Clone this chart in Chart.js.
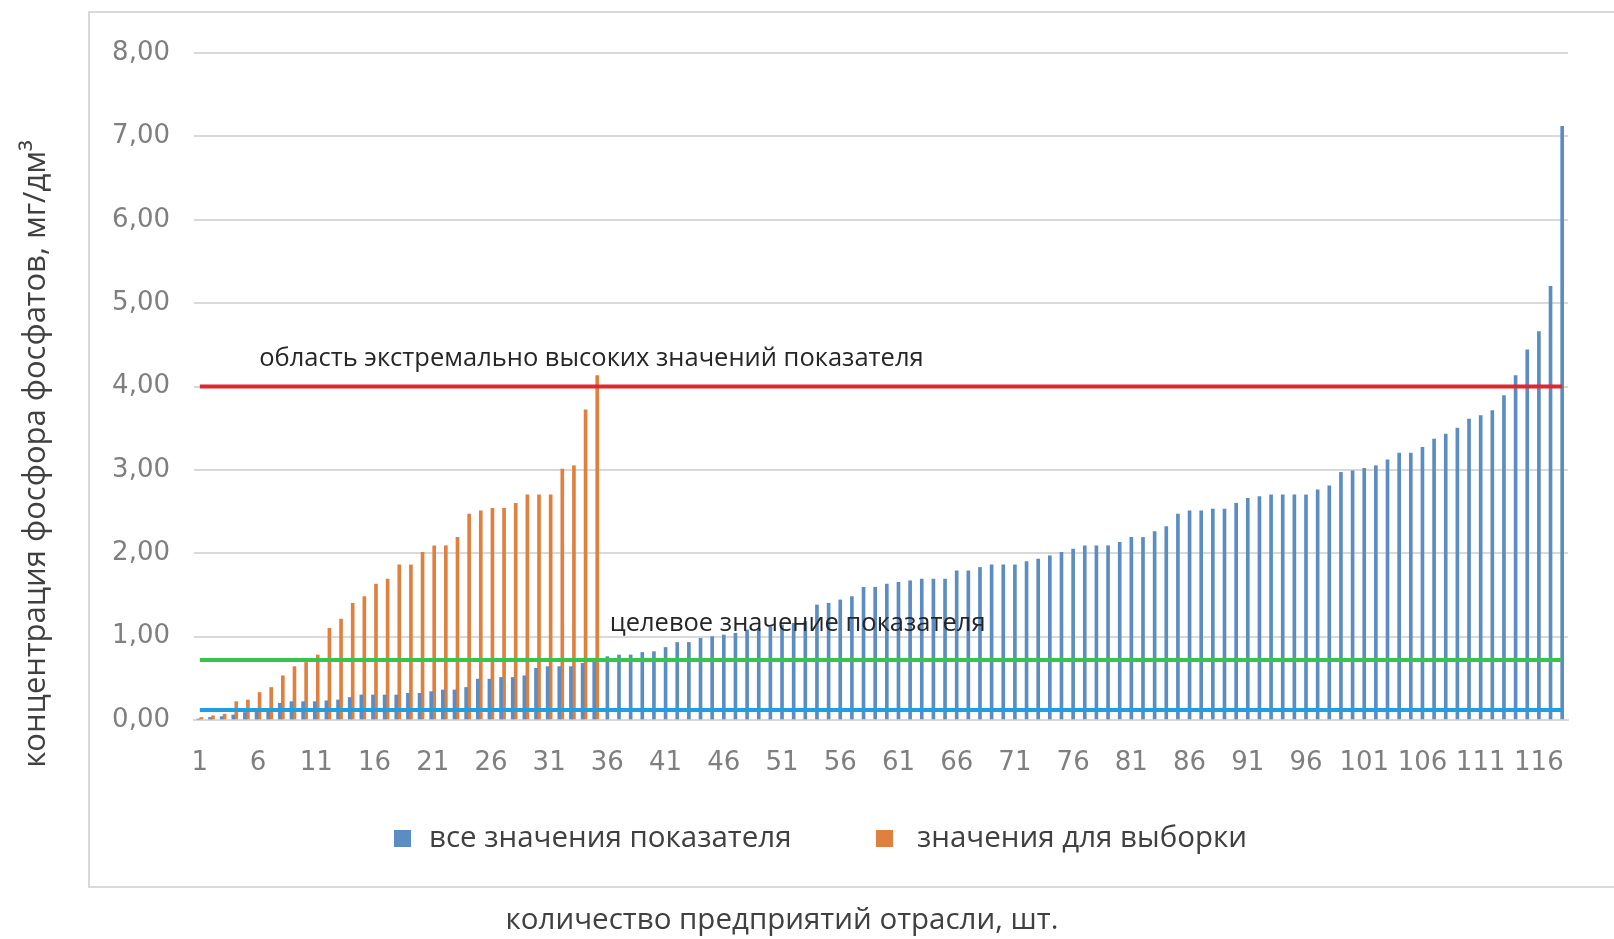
<!DOCTYPE html>
<html lang="ru">
<head>
<meta charset="utf-8">
<title>Концентрация фосфора фосфатов</title>
<script src="https://cdn.jsdelivr.net/npm/chart.js@4.4.1/dist/chart.umd.min.js"></script>
<style>
  html, body { margin: 0; padding: 0; background: #fff; }
  body { width: 1614px; height: 939px; position: relative; overflow: hidden; }
  .frame { position: absolute; left: 88px; top: 11px; right: -10px; height: 873px; border: 2px solid #d9d9d9; }
  .wrap { position: absolute; left: 0; top: 0; width: 1614px; height: 939px; }
</style>
</head>
<body>
<div class="frame"></div>
<div class="wrap"><canvas id="chart"></canvas></div>
<script>
/* Data */
const categories = [
  "1","2","3","4","5","6","7","8","9","10","11","12","13","14","15","16","17","18","19","20",
  "21","22","23","24","25","26","27","28","29","30","31","32","33","34","35","36","37","38","39","40",
  "41","42","43","44","45","46","47","48","49","50","51","52","53","54","55","56","57","58","59","60",
  "61","62","63","64","65","66","67","68","69","70","71","72","73","74","75","76","77","78","79","80",
  "81","82","83","84","85","86","87","88","89","90","91","92","93","94","95","96","97","98","99","100",
  "101","102","103","104","105","106","107","108","109","110","111","112","113","114","115","116","117","118"
];

// все значения показателя (1..118)
const allValues = [
  0.01, 0.03, 0.04, 0.06, 0.09, 0.11, 0.13, 0.20, 0.22, 0.22, 0.22, 0.23, 0.24, 0.27, 0.30, 0.30,
  0.30, 0.30, 0.32, 0.32, 0.34, 0.36, 0.36, 0.39, 0.49, 0.49, 0.51, 0.51, 0.53, 0.62, 0.64, 0.64, 0.64, 0.68, 0.72,
  0.76, 0.78, 0.78, 0.81, 0.82, 0.87, 0.93, 0.93, 0.98, 1.00, 1.02, 1.04, 1.08, 1.10, 1.12, 1.14, 1.16, 1.18,
  1.38, 1.40, 1.44, 1.48, 1.59, 1.59, 1.63,
  1.65, 1.67, 1.69, 1.69, 1.69, 1.79, 1.79, 1.83, 1.86, 1.86, 1.86, 1.90, 1.93, 1.97, 2.01, 2.05, 2.09, 2.09,
  2.09, 2.13, 2.19, 2.19, 2.26, 2.32, 2.47, 2.51,
  2.51, 2.53, 2.53, 2.60, 2.66, 2.68, 2.70, 2.70, 2.70, 2.70, 2.76, 2.81, 2.97, 2.99, 3.02, 3.05, 3.12, 3.20,
  3.20, 3.27, 3.37, 3.43, 3.50, 3.61, 3.65, 3.71, 3.89, 4.13, 4.44, 4.66, 5.20, 7.12
];

// значения для выборки (1..35)
const sampleValues = [
  0.03, 0.05, 0.07, 0.22, 0.24, 0.33, 0.39, 0.53, 0.64, 0.69, 0.78, 1.10, 1.21, 1.40, 1.48, 1.63,
  1.69, 1.86, 1.86, 2.01, 2.09, 2.09, 2.19, 2.47, 2.51, 2.54, 2.54, 2.60, 2.70, 2.70, 2.70, 3.01, 3.05, 3.72, 4.13
];

const extremeLevel = 4.0;   // область экстремально высоких значений
const targetLevel = 0.72;   // целевое значение
const baseLevel = 0.12;

const yTicks = [0, 1, 2, 3, 4, 5, 6, 7, 8];
const seriesNames = ["все значения показателя", "значения для выборки"];
const noteTexts = ["область экстремально высоких значений показателя", "целевое значение показателя"];
const yTitle = "концентрация фосфора фосфатов, мг/дм³";
const xTitle = "количество предприятий отрасли, шт.";

/* Utils */
const fmt = v => v.toFixed(2).replace(".", ",");
const sampleSeries = categories.map((c, i) => i < sampleValues.length ? sampleValues[i] : null);
const flat = v => categories.map(() => v);

const TEXT_FONT = "'Open Sans', 'Noto Sans', sans-serif";
const TICK_FONT = "'DejaVu Sans', sans-serif";

/* Texts + legend drawn over the chart */
const textPlugin = {
  id: "extraText",
  afterDraw(chart) {
    const {ctx, scales: {x, y}} = chart;
    ctx.save();

    // notes, anchored in data units
    ctx.fillStyle = "#262626";
    ctx.font = "25.5px " + TEXT_FONT;
    ctx.textAlign = "left";
    ctx.textBaseline = "middle";
    ctx.fillText(noteTexts[0], x.getPixelForValue(5.1), y.getPixelForValue(4.33));
    ctx.fillText(noteTexts[1], x.getPixelForValue(35.2), y.getPixelForValue(1.15));

    // legend for the two bar series
    ctx.font = "29.5px " + TEXT_FONT;
    const boxX = [394, 876];
    const textX = [429, 917];
    chart.data.datasets.slice(0, 2).forEach((ds, i) => {
      ctx.fillStyle = ds.backgroundColor;
      ctx.fillRect(boxX[i], 830, 17, 17);
      ctx.fillStyle = "#404040";
      ctx.fillText(ds.label, textX[i], 839);
    });

    // axis titles (outside the frame)
    ctx.textAlign = "center";
    ctx.fillText(xTitle, 782, 921);

    ctx.font = "31px " + TEXT_FONT;
    ctx.translate(36, 454);
    ctx.rotate(-Math.PI / 2);
    ctx.fillText(yTitle, 0, 0);
    ctx.restore();
  }
};

new Chart(document.getElementById("chart"), {
  data: {
    labels: categories,
    datasets: [
      { type: "bar", label: seriesNames[0], data: allValues, backgroundColor: "#5b8cc2", barThickness: 3, order: 2 },
      { type: "bar", label: seriesNames[1], data: sampleSeries, backgroundColor: "#e0803f", barThickness: 3, order: 2 },
      { type: "line", label: "extreme", data: flat(extremeLevel), borderColor: "#e0262f", borderWidth: 4, pointRadius: 0, order: 0 },
      { type: "line", label: "target", data: flat(targetLevel), borderColor: "#35c44c", borderWidth: 4, pointRadius: 0, order: 0 },
      { type: "line", label: "base", data: flat(baseLevel), borderColor: "#1f9ee2", borderWidth: 4, pointRadius: 0, order: 0 }
    ]
  },
  options: {
    responsive: true,
    maintainAspectRatio: false,
    animation: false,
    skipNull: true,
    layout: { padding: { left: 47, right: 46, top: 53, bottom: 160 } },
    plugins: {
      tooltip: { enabled: false },
      legend: { display: false }
    },
    scales: {
      x: {
        offset: true,
        grid: { display: false, drawTicks: false },
        border: { display: true, color: "#d9d9d9", width: 2 },
        afterFit: s => { s.height = 59; },
        ticks: {
          autoSkip: false,
          maxRotation: 0,
          padding: 28,
          color: "#7f7f7f",
          font: { family: TICK_FONT, size: 26 },
          callback: (v, i) => i % 5 === 0 ? categories[i] : ""
        }
      },
      y: {
        min: yTicks[0],
        max: yTicks[yTicks.length - 1],
        afterFit: s => { s.width = 147; },
        afterBuildTicks: s => { s.ticks = yTicks.map(v => ({ value: v })); },
        grid: { color: "#d9d9d9", lineWidth: 2, drawTicks: false },
        border: { display: false },
        ticks: {
          padding: 24,
          color: "#7f7f7f",
          font: { family: TICK_FONT, size: 26 },
          callback: v => fmt(v)
        }
      }
    }
  },
  plugins: [textPlugin]
});
</script>
</body>
</html>
